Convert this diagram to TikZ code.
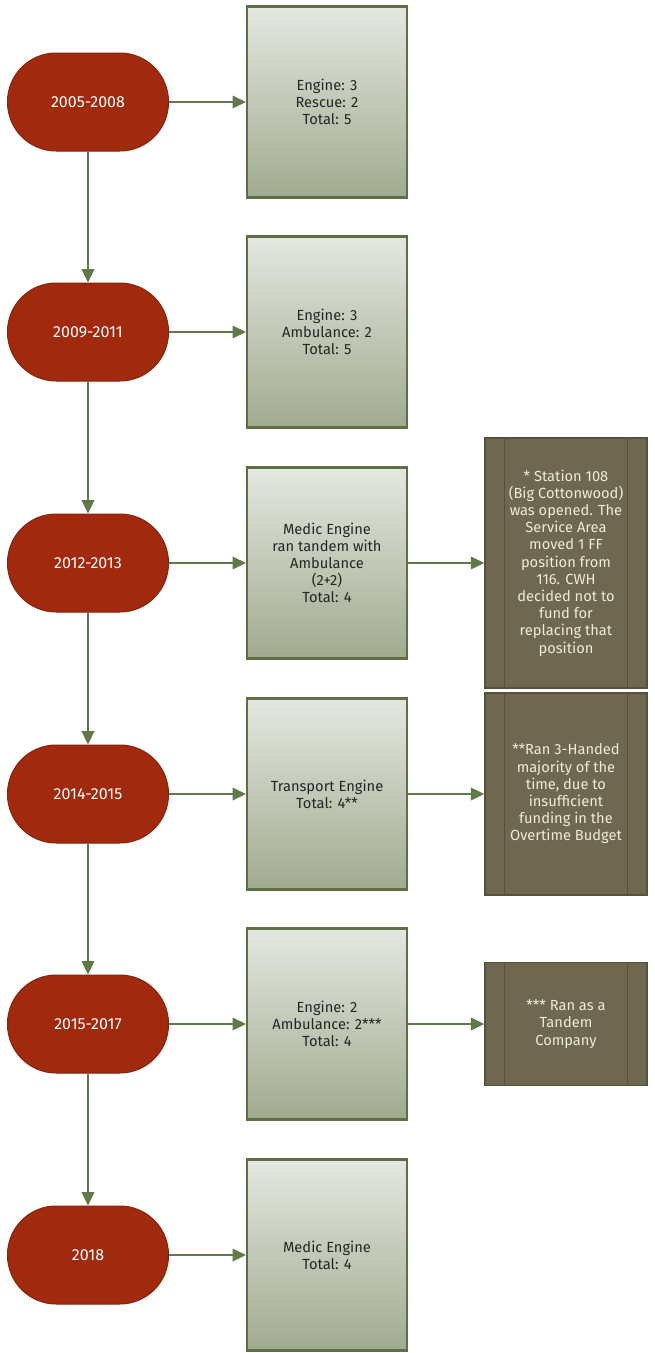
\documentclass[tikz,border=0pt]{standalone}
\usepackage{fontspec}
\setmainfont{Fira Sans}
\usepackage{xcolor}
\usetikzlibrary{arrows.meta, calc}

\definecolor{pillred}{HTML}{A0290E}
\definecolor{crewtop}{HTML}{E4E7E0}
\definecolor{crewbottom}{HTML}{A0AA8F}
\definecolor{crewedge}{HTML}{5E6E45}
\definecolor{notefill}{HTML}{6F6850}
\definecolor{noteedge}{HTML}{575139}
\definecolor{notetext}{HTML}{EFEAD8}
\definecolor{linkgreen}{HTML}{5F7A48}

\tikzset{
  pill/.style = {draw = pillred!85!black, line width = 0.75pt, fill = pillred,
    rounded corners = 36.5pt, minimum width = 120.75pt, minimum height = 73.5pt,
    text = white, font = \fontsize{12}{14}\selectfont},
  crew/.style = {draw = crewedge, line width = 1.6pt, top color = crewtop,
    bottom color = crewbottom, minimum width = 120pt, minimum height = 143.25pt,
    align = center, text = black!85, font = \fontsize{11}{12.75}\selectfont},
  note/.style = {draw = noteedge, line width = 1.1pt, fill = notefill,
    minimum width = 121.5pt, align = center, text = notetext,
    font = \fontsize{11}{12.9}\selectfont},
  notebar/.style = {draw = noteedge, line width = 1.1pt},
  link/.style = {draw = linkgreen, line width = 0.9pt,
    -{Triangle[length = 10pt, width = 9.5pt]}}
}

\begin{document}
\begin{tikzpicture}[x = 0.75pt, y = -0.75pt]
		%variables
		\def\xp{88}
		\def\xc{327}
		\def\xn{566}

		\useasboundingbox (0,0) rectangle (654,1353);

		%years
		\node [pill] (p1) at (\xp,102) {2005-2008};
		\node [pill] (p2) at (\xp,332) {2009-2011};
		\node [pill] (p3) at (\xp,563) {2012-2013};
		\node [pill] (p4) at (\xp,794) {2014-2015};
		\node [pill] (p5) at (\xp,1024) {2015-2017};
		\node [pill] (p6) at (\xp,1255) {2018};

		%crews
		\node [crew] (c1) at (\xc,102) {Engine: 3\\Rescue: 2\\Total: 5};
		\node [crew] (c2) at (\xc,332) {Engine: 3\\Ambulance: 2\\Total: 5};
		\node [crew] (c3) at (\xc,563) {Medic Engine\\ran tandem with\\Ambulance\\(2+2)\\Total: 4};
		\node [crew] (c4) at (\xc,794) {Transport Engine\\Total: 4**};
		\node [crew] (c5) at (\xc,1024) {Engine: 2\\Ambulance: 2***\\Total: 4};
		\node [crew] (c6) at (\xc,1255) {Medic Engine\\Total: 4};

		%notes
		\node [note, minimum height = 187.5pt] (n3) at (\xn,563) {* Station 108\\(Big Cottonwood)\\was opened. The\\Service Area\\moved 1 FF\\position from\\116. CWH\\decided not to\\fund for\\replacing that\\position};
		\node [note, minimum height = 151.5pt] (n4) at (\xn,794) {**Ran 3-Handed\\majority of the\\time, due to\\insufficient\\funding in the\\Overtime Budget};
		\node [note, minimum height = 92.25pt] (n5) at (\xn,1024) {*** Ran as a\\Tandem\\Company};

		\foreach \n in {n3, n4, n5} {
			\draw [notebar] ($(\n.north west) + (20,0)$) -- ($(\n.south west) + (20,0)$);
			\draw [notebar] ($(\n.north east) + (-20,0)$) -- ($(\n.south east) + (-20,0)$);
		}

		%links
		\foreach \i/\j in {1/2, 2/3, 3/4, 4/5, 5/6}
			\draw [link] (p\i) -- (p\j);
		\foreach \i in {1,...,6}
			\draw [link] (p\i) -- (c\i);
		\foreach \i in {3, 4, 5}
			\draw [link] (c\i) -- (n\i);
	\end{tikzpicture}
\end{document}
